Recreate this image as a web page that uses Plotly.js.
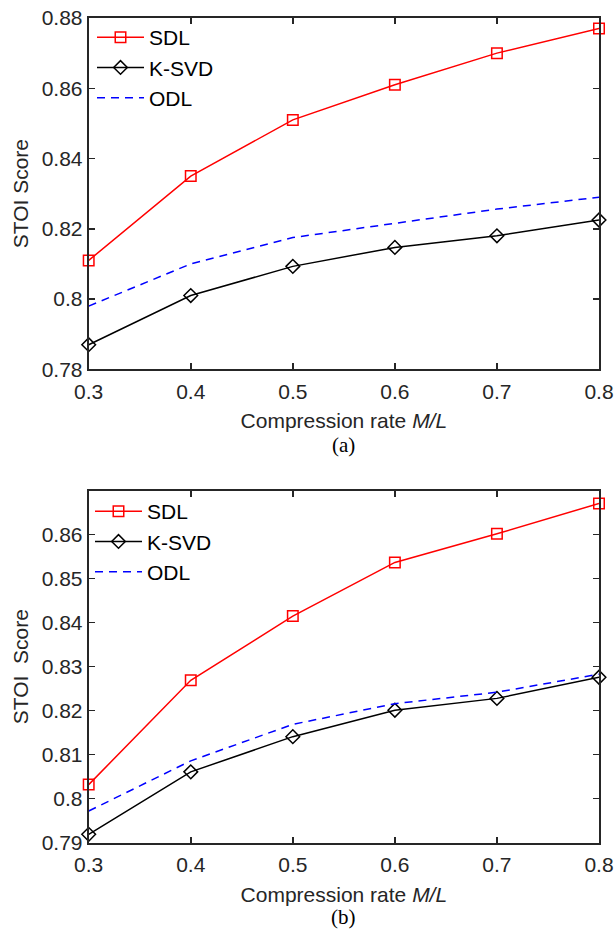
<!DOCTYPE html>
<html>
<head>
<meta charset="utf-8">
<script src="https://cdn.plot.ly/plotly-3.0.1.min.js"></script>
<style>html,body{margin:0;padding:0;background:#fff;}#chart{width:616px;height:930px;}</style>
</head>
<body>
<div id="chart"></div>
<script>
// Compression rate M/L
const rates = [0.3, 0.4, 0.5, 0.6, 0.7, 0.8];
const rateTicks = ['0.3', '0.4', '0.5', '0.6', '0.7', '0.8'];

// Panel (a)
const sdlA  = [0.811, 0.835, 0.851, 0.861, 0.870, 0.877];
const ksvdA = [0.787, 0.801, 0.8093, 0.8147, 0.818, 0.8225];
const odlA  = [0.798, 0.810, 0.8175, 0.8215, 0.8256, 0.829];
const yTicksA = [0.78, 0.80, 0.82, 0.84, 0.86, 0.88];
const yTextA  = ['0.78', '0.8', '0.82', '0.84', '0.86', '0.88'];

// Panel (b)
const sdlB  = [0.8032, 0.8269, 0.8415, 0.8537, 0.8602, 0.8671];
const ksvdB = [0.7919, 0.8061, 0.8141, 0.8201, 0.8228, 0.8276];
const odlB  = [0.7972, 0.8086, 0.8169, 0.8216, 0.8242, 0.8283];
const yTicksB = [0.79, 0.80, 0.81, 0.82, 0.83, 0.84, 0.85, 0.86];
const yTextB  = ['0.79', '0.8', '0.81', '0.82', '0.83', '0.84', '0.85', '0.86'];

const W = 616, H = 930;
const axc = '#262626';
const tickFont = {family: 'Liberation Sans, Arial, sans-serif', size: 21, color: axc};
const titleFont = {family: 'Liberation Sans, Arial, sans-serif', size: 21, color: axc};
const px = v => v / W, py = v => 1 - v / H;

function sdl(x, y, xa, ya, lg) {
  return {x, y, xaxis: xa, yaxis: ya, legend: lg, name: 'SDL', type: 'scatter', mode: 'lines+markers',
    line: {color: '#ff0000', width: 1.5}, marker: {symbol: 'square-open', size: 10.5, color: '#ff0000', line: {width: 1.5, color: '#ff0000'}},
    cliponaxis: false};
}
function ksvd(x, y, xa, ya, lg) {
  return {x, y, xaxis: xa, yaxis: ya, legend: lg, name: 'K-SVD', type: 'scatter', mode: 'lines+markers',
    line: {color: '#000000', width: 1.5}, marker: {symbol: 'diamond-open', size: 10.5, color: '#000000', line: {width: 1.5, color: '#000000'}},
    cliponaxis: false};
}
function odl(x, y, xa, ya, lg) {
  return {x, y, xaxis: xa, yaxis: ya, legend: lg, name: 'ODL', type: 'scatter', mode: 'lines',
    line: {color: '#0000ff', width: 1.5, dash: '8px,6px'}, cliponaxis: false};
}

const data = [
  sdl(rates, sdlA, 'x', 'y', 'legend'),
  ksvd(rates, ksvdA, 'x', 'y', 'legend'),
  odl(rates, odlA, 'x', 'y', 'legend'),
  sdl(rates, sdlB, 'x2', 'y2', 'legend2'),
  ksvd(rates, ksvdB, 'x2', 'y2', 'legend2'),
  odl(rates, odlB, 'x2', 'y2', 'legend2')
];

const xDom = [px(88.7), px(599)];
function xAxis(anchor, titleText) {
  return {domain: xDom, anchor, range: [0.3, 0.8], tickmode: 'array', tickvals: rates, ticktext: rateTicks,
    ticks: 'inside', ticklen: 6, tickwidth: 1.5, tickcolor: axc, mirror: 'ticks', showline: true, linewidth: 2, linecolor: axc,
    showgrid: false, zeroline: false, tickfont: tickFont, automargin: false, ticklabelstandoff: 2,
    title: {text: titleText, font: titleFont, standoff: 12}};
}
function yAxis(anchor, dom, range, tv, tt, titleText) {
  return {domain: dom, anchor, range, tickmode: 'array', tickvals: tv, ticktext: tt,
    ticks: 'inside', ticklen: 6, tickwidth: 1.5, tickcolor: axc, mirror: 'ticks', showline: true, linewidth: 2, linecolor: axc,
    showgrid: false, zeroline: false, tickfont: tickFont, automargin: false,
    title: {text: titleText, font: titleFont, standoff: 7}};
}

const legendBase = {xanchor: 'left', yanchor: 'top', bgcolor: 'rgba(0,0,0,0)', borderwidth: 0,
  font: {family: 'Liberation Sans, Arial, sans-serif', size: 21, color: '#000'}, itemwidth: 47, tracegroupgap: 0};

const layout = {
  width: W, height: H, margin: {l: 0, r: 0, t: 0, b: 0}, paper_bgcolor: '#fff', plot_bgcolor: '#fff', showlegend: true,
  xaxis: xAxis('y', 'Compression rate <i>M/L</i>'),
  yaxis: yAxis('x', [py(369.3), py(18)], [0.78, 0.88], yTicksA, yTextA, 'STOI Score'),
  xaxis2: xAxis('y2', 'Compression rate <i>M/L</i>'),
  yaxis2: yAxis('x2', [py(842.7), py(490.7)], [0.79, 0.87], yTicksB, yTextB, 'STOI\u00a0 Score'),
  legend: Object.assign({}, legendBase, {x: px(92), y: py(17)}),
  legend2: Object.assign({}, legendBase, {x: px(90), y: py(491)}),
  annotations: [
    {text: '(a)', xref: 'paper', yref: 'paper', x: px(343.9), y: py(445), xanchor: 'center', yanchor: 'middle', showarrow: false,
     font: {family: 'Liberation Serif, Times New Roman, serif', size: 21, color: '#000'}},
    {text: '(b)', xref: 'paper', yref: 'paper', x: px(343.9), y: py(917), xanchor: 'center', yanchor: 'middle', showarrow: false,
     font: {family: 'Liberation Serif, Times New Roman, serif', size: 21, color: '#000'}}
  ]
};

Plotly.newPlot('chart', data, layout, {displayModeBar: false, staticPlot: true});
</script>
</body>
</html>
